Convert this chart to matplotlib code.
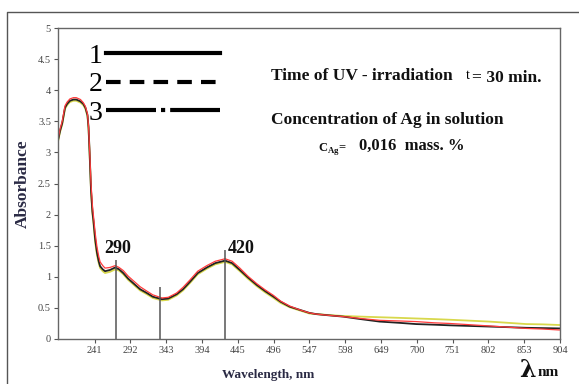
import matplotlib
matplotlib.use("Agg")
import matplotlib.pyplot as plt
from matplotlib.lines import Line2D

plt.rcParams['font.family'] = ['Liberation Serif', 'DejaVu Serif']

# spectra (nm, absorbance)
wavelength = [189.5, 192, 195, 199, 202, 206, 211, 215, 221, 225, 228, 231, 232.5,
              234, 236, 238, 239.5, 242, 244.5, 247, 249, 252.7, 256, 263, 270.5,
              276, 282, 289, 296, 306, 315.5, 324, 337, 346, 358, 367, 377, 388,
              401, 413, 427, 437, 448, 459.5, 472, 484, 496, 506, 519, 533, 547,
              557, 575, 595, 620, 647, 675, 699, 725, 746.5, 775, 803, 830, 856,
              880, 903]
absorb_1 = [3.22, 3.35, 3.47, 3.72, 3.78, 3.83, 3.85, 3.85, 3.82, 3.78, 3.72, 3.60, 3.40,
            3.00, 2.40, 2.05, 1.90, 1.60, 1.39, 1.25, 1.17, 1.12, 1.09, 1.11, 1.15,
            1.12, 1.06, 0.97, 0.90, 0.80, 0.74, 0.68, 0.64, 0.65, 0.72, 0.80, 0.92, 1.06,
            1.15, 1.22, 1.26, 1.22, 1.11, 0.99, 0.87, 0.77, 0.68, 0.60, 0.52, 0.47, 0.42,
            0.40, 0.38, 0.36, 0.32, 0.28, 0.26, 0.24, 0.23, 0.22, 0.21, 0.20, 0.19, 0.18,
            0.175, 0.17]
absorb_2 = [3.24, 3.38, 3.50, 3.75, 3.81, 3.86, 3.88, 3.88, 3.85, 3.80, 3.74, 3.62, 3.42,
            3.05, 2.50, 2.15, 1.98, 1.70, 1.48, 1.33, 1.24, 1.18, 1.14, 1.15, 1.18,
            1.15, 1.10, 1.01, 0.94, 0.84, 0.77, 0.71, 0.66, 0.67, 0.74, 0.83, 0.95, 1.09,
            1.18, 1.25, 1.29, 1.25, 1.14, 1.01, 0.89, 0.79, 0.70, 0.61, 0.53, 0.47, 0.42,
            0.40, 0.38, 0.36, 0.33, 0.30, 0.29, 0.28, 0.26, 0.25, 0.23, 0.21, 0.19, 0.17,
            0.16, 0.145]
absorb_3 = [3.20, 3.33, 3.45, 3.70, 3.76, 3.81, 3.83, 3.83, 3.80, 3.76, 3.70, 3.58, 3.38,
            2.98, 2.38, 2.02, 1.86, 1.55, 1.35, 1.22, 1.14, 1.09, 1.06, 1.08, 1.12,
            1.10, 1.04, 0.95, 0.88, 0.78, 0.72, 0.66, 0.62, 0.63, 0.70, 0.78, 0.90, 1.04,
            1.13, 1.20, 1.24, 1.20, 1.09, 0.97, 0.85, 0.75, 0.66, 0.58, 0.51, 0.46, 0.41,
            0.40, 0.385, 0.37, 0.36, 0.35, 0.34, 0.33, 0.32, 0.31, 0.295, 0.28, 0.26, 0.24,
            0.235, 0.225]

xticks = [241, 292, 343, 394, 445, 496, 547, 598, 649, 700, 751, 802, 853, 904]
yticks = [0, 0.5, 1, 1.5, 2, 2.5, 3, 3.5, 4, 4.5, 5]
ytick_labels = ['0', '0.5', '1', '1.5', '2', '2.5', '3', '3.5', '4', '4.5', '5']

# marker lines: (position nm, height, label)
marks_nm = [271.5, 334.5, 427]
marks_top = [1.27, 0.83, 1.43]
mark_labels = ['290', '', '420']

fig = plt.figure(figsize=(5.79, 3.84), dpi=100)
# outer frame (top and left edges only)
fig.add_artist(Line2D([7 / 579, 7 / 579, 1.0], [0.0, 1 - 12 / 384, 1 - 12 / 384],
                      transform=fig.transFigure, color='#555555', lw=1.0))
ax = fig.add_axes([58 / 579, 1 - 339 / 384, 502 / 579, 311 / 384])

ax.plot(wavelength, absorb_3, color='#d8d84c', lw=1.3)
ax.plot(wavelength, absorb_1, color='#222222', lw=1.3)
ax.plot(wavelength, absorb_2, color='#ff3b3b', lw=0.9)

for xm, top, lab in zip(marks_nm, marks_top, mark_labels):
    ax.vlines(xm, 0, top, color='#555555', lw=1.1)
    if lab:
        ax.text(xm - 17 if lab == '290' else xm + 4, 1.45, lab, fontsize=13,
                fontweight='bold', va='center', ha='left', color='#111111')

ax.set_xlim(189, 904)
ax.set_ylim(0, 5)
ax.set_xticks(xticks)
ax.set_yticks(yticks)
ax.set_yticklabels(ytick_labels)
ax.tick_params(axis='both', labelsize=7.5, colors='#555555', length=3, width=0.8,
               labelcolor='#444444', pad=2)
for s in ax.spines.values():
    s.set_color('#666666')
    s.set_linewidth(1.0)

ax.set_ylabel('Absorbance', fontsize=12.5, fontweight='bold', color='#2a2a44', labelpad=5)
ax.set_xlabel('Wavelength, nm', fontsize=9.5, fontweight='bold', color='#2a2a44')
ax.xaxis.set_label_coords((268 - 58) / 502, -30 / 311)

handles = [Line2D([], [], color='black', lw=3, ls='-'),
           Line2D([], [], color='black', lw=3, ls=(0, (3.5, 2.2))),
           Line2D([], [], color='black', lw=3, ls=(0, (12, 1.2, 1, 1.2)))]
ax.legend(handles, ['1', '2', '3'], loc='upper left', bbox_to_anchor=(0.012, 1.03),
          frameon=False, markerfirst=False, handlelength=4.1, handletextpad=0.1,
          labelspacing=0.1, fontsize=20)

ax.text(0.424, 0.845, 'Time of UV - irradiation', transform=ax.transAxes,
        fontsize=12.5, fontweight='bold', va='center', color='#111111')
ax.text(0.812, 0.848, 't', transform=ax.transAxes, fontsize=10, va='center')
ax.text(0.824, 0.84, '= 30 min.', transform=ax.transAxes,
        fontsize=12.5, fontweight='bold', va='center', color='#111111')
ax.text(0.424, 0.705, 'Concentration of Ag in solution', transform=ax.transAxes,
        fontsize=12.5, fontweight='bold', va='center', color='#111111')
ax.text(0.518, 0.612, r'C$_{\mathregular{Ag}}$=', transform=ax.transAxes,
        fontsize=9, fontweight='bold', va='center', color='#111111')
ax.text(0.6, 0.62, '0,016  mass. %', transform=ax.transAxes,
        fontsize=12, fontweight='bold', va='center', color='#111111')

fig.text(519 / 579, 1 - 370 / 384, '\u03bb', fontsize=17, fontweight='bold',
         va='center', ha='left', color='#111111', family=['DejaVu Serif'])
fig.text(538 / 579, 1 - 372 / 384, 'nm', fontsize=11, fontweight='bold',
         va='center', ha='left', color='#111111')

fig.savefig('out.png', dpi=100)
